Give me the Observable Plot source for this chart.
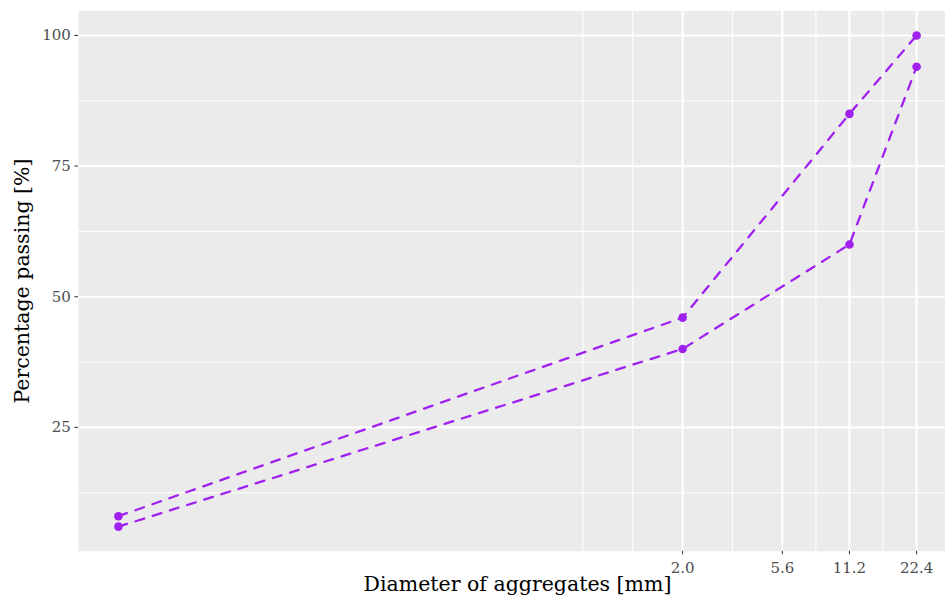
<!DOCTYPE html>
<html>
<head>
<meta charset="utf-8">
<script src="https://cdn.jsdelivr.net/npm/d3@7"></script>
<script src="https://cdn.jsdelivr.net/npm/@observablehq/plot@0.6"></script>
<style>
  html, body { margin: 0; padding: 0; background: #ffffff; }
  #chart { width: 945px; height: 608px; overflow: hidden; }
  #chart svg { font-family: "DejaVu Serif", serif; max-width: none; }
</style>
</head>
<body>
<div id="chart"></div>
<script>
// Grading curve envelope: sieve size (mm) vs. percentage passing
const sieveSizes = [0.0059, 2.0, 11.2, 22.4];
const upperPassing = [8, 46, 85, 100];
const lowerPassing = [6, 40, 60, 94];
const xTicks = [2.0, 5.6, 11.2, 22.4];
const yTicks = [25, 50, 75, 100];

const rows = [
  ...sieveSizes.map((d, i) => ({size: d, passing: upperPassing[i], limit: "upper"})),
  ...lowerPassing.map((p, i) => ({size: sieveSizes[i], passing: p, limit: "lower"}))
];

// 5% padding of the data range on each side (log space for x)
const lx = sieveSizes.map(Math.log10);
const lxMin = d3.min(lx), lxMax = d3.max(lx), lxr = lxMax - lxMin;
const xDomain = [10 ** (lxMin - 0.05 * lxr), 10 ** (lxMax + 0.05 * lxr)];
const allP = upperPassing.concat(lowerPassing);
const pMin = d3.min(allP), pMax = d3.max(allP), pr = pMax - pMin;
const yDomain = [pMin - 0.05 * pr, pMax + 0.05 * pr];

// Minor grid: midpoints between consecutive breaks, with one break added beyond each end
function minorBreaks(b, dom, toT, fromT) {
  const t = b.map(toT);
  const step = t[1] - t[0];
  const ext = [t[0] - step, ...t, t[t.length - 1] + step];
  const out = [];
  for (let i = 0; i < ext.length - 1; i++) {
    out.push(ext[i], (ext[i] + ext[i + 1]) / 2);
  }
  out.push(ext[ext.length - 1]);
  const lo = toT(dom[0]), hi = toT(dom[1]);
  return out.filter(v => v >= lo && v <= hi && !t.some(m => Math.abs(m - v) < 1e-9)).map(fromT);
}
const xMinor = minorBreaks(xTicks, xDomain, Math.log10, v => 10 ** v);
const yMinor = minorBreaks(yTicks, yDomain, v => v, v => v);

// one table per direction: minor lines thin, major lines thick
const gridX = [
  ...xMinor.map(v => ({v, w: 1.1})),
  ...xTicks.map(v => ({v, w: 2.1}))
];
const gridY = [
  ...yMinor.map(v => ({v, w: 1.1})),
  ...yTicks.map(v => ({v, w: 2.1}))
];

const purple = "#A020F0";

const chart = Plot.plot({
  width: 956,
  height: 608,
  marginLeft: 78,
  marginRight: 0,
  marginTop: 10.4,
  marginBottom: 57.3,
  style: {fontFamily: "DejaVu Serif, serif", background: "transparent", maxWidth: "none"},
  x: {type: "log", domain: xDomain, axis: null},
  y: {domain: yDomain, axis: null},
  marks: [
    // grey panel with white major/minor grid
    Plot.frame({fill: "#EBEBEB", stroke: null}),
    Plot.ruleY(gridY, {y: "v", strokeWidth: "w", stroke: "#ffffff"}),
    Plot.ruleX(gridX, {x: "v", strokeWidth: "w", stroke: "#ffffff"}),
    // axis tick marks (x labels drawn separately below)
    Plot.axisX({ticks: xTicks, tickSize: 3.7, stroke: "#333333", tickFormat: () => "", label: null}),
    Plot.axisY({
      ticks: yTicks, tickSize: 3.7, tickPadding: 4, stroke: "#333333", fill: "#4D4D4D",
      fontSize: 15, label: null
    }),
    Plot.text(xTicks, {
      x: d => d, text: d => d.toFixed(1), frameAnchor: "bottom", lineAnchor: "top",
      dy: 11, fontSize: 15, fill: "#4D4D4D"
    }),
    Plot.text(["Diameter of aggregates [mm]"], {
      frameAnchor: "bottom", dy: 40, fontSize: 20.5, fill: "#000000"
    }),
    Plot.text(["Percentage passing [%]"], {
      frameAnchor: "left", textAnchor: "middle", dx: -56, rotate: -90,
      fontSize: 20.5, fill: "#000000"
    }),
    // upper and lower grading limits
    Plot.line(rows, {
      x: "size", y: "passing", z: "limit", stroke: purple,
      strokeWidth: 2.3, strokeDasharray: "9,9"
    }),
    Plot.dot(rows, {x: "size", y: "passing", r: 4.3, fill: purple, stroke: null})
  ]
});

document.getElementById("chart").appendChild(chart);
</script>
</body>
</html>
